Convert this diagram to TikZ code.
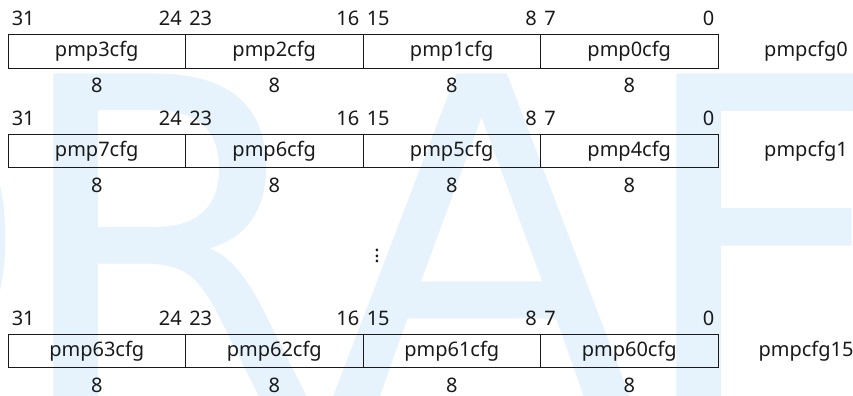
\documentclass[tikz,border=0pt]{standalone}
\usepackage{fontspec}
\setmainfont{Noto Sans}
\newfontfamily\wmfont{DejaVu Sans}
\definecolor{wm}{RGB}{230,243,252}
\definecolor{ink}{RGB}{25,25,25}
\begin{document}
\begin{tikzpicture}[x=0.75pt,y=-0.75pt,
  field/.style={draw=ink, line width=0.7pt, minimum width=133.125pt, minimum height=25.2pt, inner sep=0pt, text=ink},
  bitl/.style={anchor=west, inner sep=0pt, text=ink},
  bitr/.style={anchor=east, inner sep=0pt, text=ink},
  wid/.style={inner sep=0pt, text=ink},
  reg/.style={inner sep=0pt, text=ink},
  wmletter/.style={anchor=base west, inner sep=0pt, text=wm, font=\wmfont\fontsize{339}{339}\selectfont},
  every node/.append style={font=\fontsize{15}{18}\selectfont}]
\useasboundingbox (0,0) rectangle (853,396);
\begin{scope}
\clip (0,0) rectangle (853,396);
\node[wmletter] (wD) at (-316,403) {D};
\node[wmletter] (wR) at (9,403) {R};
\node[wmletter] (wA) at (327,403) {A};
\node[wmletter] (wF) at (632,403) {F};
\end{scope}
% rows
\foreach \row/\yc/\regname/\a/\b/\c/\d in {r1/51.5/pmpcfg0/pmp3cfg/pmp2cfg/pmp1cfg/pmp0cfg,
                                       r2/151/pmpcfg1/pmp7cfg/pmp6cfg/pmp5cfg/pmp4cfg,
                                       r3/351/pmpcfg15/pmp63cfg/pmp62cfg/pmp61cfg/pmp60cfg}{
  \node[field] (\row f3) at (96.75,\yc) {\a};
  \node[field] (\row f2) at (274.25,\yc) {\b};
  \node[field] (\row f1) at (451.75,\yc) {\c};
  \node[field] (\row f0) at (629.25,\yc) {\d};
  \node[reg] (\row reg) at (806,\yc) {\regname};
  \foreach \f/\hi/\lo in {f3/31/24, f2/23/16, f1/15/8, f0/7/0}{
    \node[bitl] (\row\f hi) at ([xshift=3pt,yshift=11.8pt]\row\f.north west) {\hi};
    \node[bitr] (\row\f lo) at ([xshift=-3pt,yshift=11.8pt]\row\f.north east) {\lo};
    \node[wid] (\row\f w) at ([yshift=-12.6pt]\row\f.south) {8};
  }
}
\node[inner sep=0pt, text=ink] (dots) at (377,252) {$\vdots$};
\end{tikzpicture}
\end{document}
